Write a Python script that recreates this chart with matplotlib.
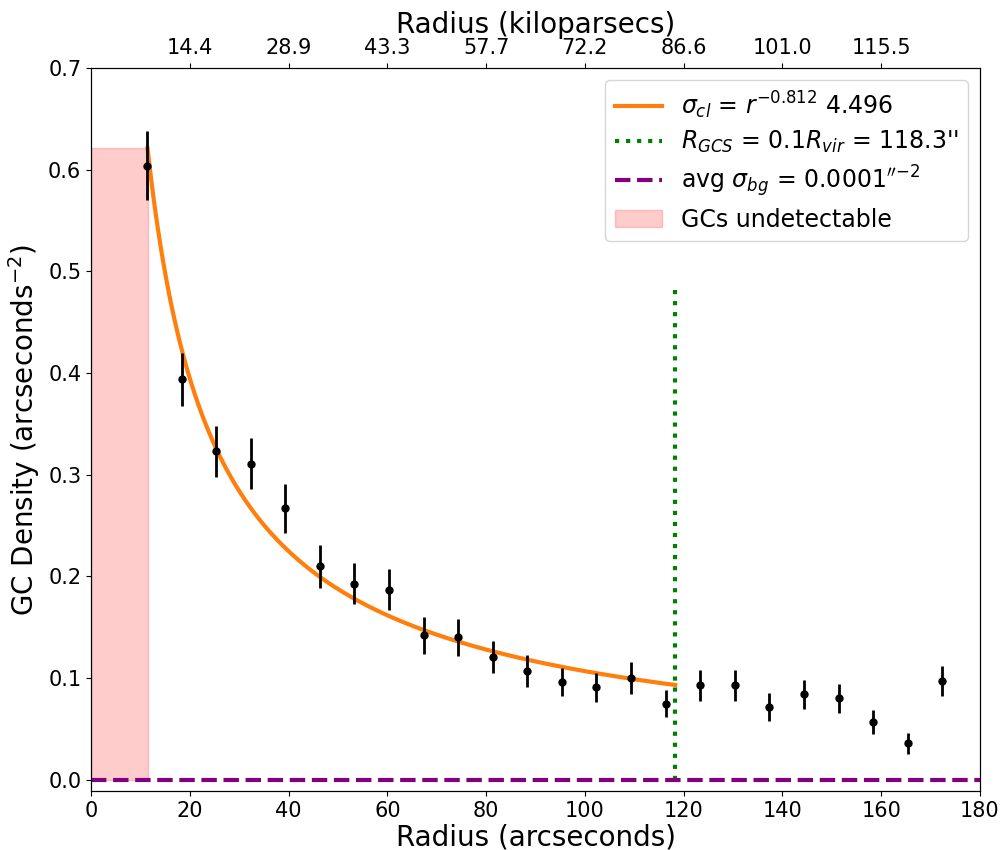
import numpy as np
import matplotlib
matplotlib.use("Agg")
import matplotlib.pyplot as plt

# Data
radius = [11.35, 18.35, 25.35, 32.35, 39.35, 46.35, 53.35, 60.35, 67.35, 74.35,
          81.35, 88.35, 95.35, 102.35, 109.35, 116.35, 123.35, 130.35, 137.35,
          144.35, 151.35, 158.35, 165.35, 172.35]
density = [0.604, 0.394, 0.323, 0.311, 0.267, 0.210, 0.193, 0.187, 0.142, 0.140,
           0.121, 0.107, 0.096, 0.091, 0.100, 0.075, 0.093, 0.093, 0.0715,
           0.084, 0.080, 0.057, 0.036, 0.097]
density_err = [0.034, 0.026, 0.025, 0.025, 0.024, 0.021, 0.020, 0.020, 0.018, 0.018,
               0.016, 0.016, 0.014, 0.014, 0.016, 0.0135, 0.015, 0.015, 0.0135,
               0.0145, 0.014, 0.012, 0.0105, 0.015]

fit_amp = 4.496
fit_exp = -0.812
r_gcs = 118.3
r_min = 11.45
sigma_bg = 0.0001
green_top = 0.487

top_tick_pos = [20, 40, 60, 80, 100, 120, 140, 160]
top_tick_labels = ["14.4", "28.9", "43.3", "57.7", "72.2", "86.6", "101.0", "115.5"]

fig = plt.figure(figsize=(10, 8.5), dpi=100)
ax = fig.add_axes([0.091, 0.0694, 0.889, 0.8506])

r_fit = np.linspace(r_min, r_gcs, 400)
sig_fit = fit_amp * r_fit ** fit_exp
ax.plot(r_fit, sig_fit, color='#ff7f0e', lw=3,
        label=r"$\sigma_{cl}$ = $r^{-0.812}$ 4.496")
ax.vlines(r_gcs, 0, green_top, colors='green', linestyles=':', lw=3,
          label=r"$R_{GCS}$ = 0.1$R_{vir}$ = 118.3''")
ax.axhline(sigma_bg, color='purple', ls='--', lw=3,
           label=r"avg $\sigma_{bg}$ = 0.0001$^{\prime\prime{-}2}$")
ax.fill_between([0, r_min], 0, fit_amp * r_min ** fit_exp, color='red', alpha=0.2,
                label="GCs undetectable")
ax.errorbar(radius, density, yerr=density_err, fmt='o', color='black',
            ms=5, elinewidth=2, capsize=0)

ax.set_xlim(0, 180)
ax.set_ylim(-0.011, 0.7)
ax.set_xticks(np.arange(0, 181, 20))
ax.set_yticks(np.arange(0, 0.71, 0.1))
ax.tick_params(labelsize=15)
ax.set_xlabel("Radius (arcseconds)", fontsize=20, labelpad=2)
ax.set_ylabel(r"GC Density (arcseconds$^{-2}$)", fontsize=20)

ax.legend(loc='upper right', fontsize=17, labelspacing=0.35)

ax2 = ax.twiny()
ax2.set_xlim(ax.get_xlim())
ax2.set_xticks(top_tick_pos)
ax2.set_xticklabels(top_tick_labels)
ax2.tick_params(labelsize=15)
ax2.set_xlabel("Radius (kiloparsecs)", fontsize=20, labelpad=4)

fig.savefig("out.png", dpi=100)
